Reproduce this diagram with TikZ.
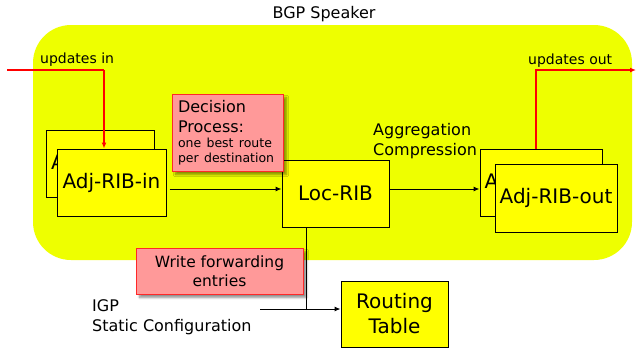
\documentclass[tikz,border=0pt]{standalone}
\usepackage{fontspec}
\setmainfont{DejaVu Sans}
\usepackage{tikz}
\usetikzlibrary{positioning}
\usetikzlibrary{arrows.meta}
\usetikzlibrary{shadows.blur}
\definecolor{speakerColor}{RGB}{238,255,0}
\definecolor{boxColor}{RGB}{255,255,0}
\definecolor{noteColor}{RGB}{255,153,153}
\definecolor{noteBorder}{RGB}{255,40,40}
\definecolor{updateColor}{RGB}{255,0,0}
\begin{document}
\begin{tikzpicture}[x=1pt,y=-1pt]

          \tikzstyle{boxNode} = [draw=black, fill=boxColor, line width=1pt, inner sep=0pt, minimum width=108pt, minimum height=67pt, font=\fontsize{20}{25}\selectfont, align=center];
          \tikzstyle{noteNode} = [draw=noteBorder, fill=noteColor, line width=1pt, inner sep=0pt, blur shadow={shadow xshift=3.5pt, shadow yshift=-3.5pt, shadow blur steps=6, shadow opacity=45}];
          \tikzstyle{labelNode} = [inner sep=0pt, align=left, font=\fontsize{16}{20}\selectfont];

          \tikzstyle{arrowEdge} = [line width=1pt, -{Latex[length=6pt, width=5pt]}];
          \tikzstyle{normalEdge} = [line width=1pt];
          \tikzstyle{redEdge} = [line width=1.5pt, updateColor];

          \useasboundingbox (0,0) rectangle (636,349);

          % speaker area
          \fill[speakerColor, rounded corners=38pt] (33,25) rectangle (632,260);
          \node[labelNode] (speaker) at (324,14) {BGP Speaker};

          \node[boxNode] (inBack) at (100,163.5) {Adj-RIB-in};
          \node[boxNode, minimum width=109pt] (adjIn) at (111.5,182.5) {Adj-RIB-in};
          \node[boxNode, minimum width=107pt] (loc) at (335.5,193.5) {Loc-RIB};
          \node[boxNode, minimum width=122pt] (outBack) at (541,182.5) {Adj-RIB-out};
          \node[boxNode, minimum width=122pt, minimum height=68pt] (adjOut) at (556,198) {Adj-RIB-out};
          \node[boxNode, minimum width=107pt, minimum height=66pt] (routing) at (394.5,314) {Routing\\Table};

          \node[noteNode, minimum width=111pt, minimum height=77pt, text width=99pt, align=left, font=\fontsize{16}{20}\selectfont] (decision) at (227.5,132.5)
            {Decision\\Process:\par\vspace{1pt}{\fontsize{12.5}{14.5}\selectfont one best route\\per destination\par}};
          \node[noteNode, minimum width=167pt, minimum height=46pt, align=center, font=\fontsize{15.5}{19}\selectfont] (write) at (219.5,271) {Write forwarding\\entries};

          \node[labelNode, font=\fontsize{14}{17}\selectfont, anchor=west] (updIn) at (40,60) {updates in};
          \node[labelNode, font=\fontsize{14}{17}\selectfont, anchor=west] (updOut) at (528,61) {updates out};
          \node[labelNode, anchor=west] (aggr) at (373,141) {Aggregation\\Compression};
          \node[labelNode, anchor=west] (igp) at (92,317) {IGP\\Static Configuration};

          \coordinate (inStart) at (7,70);
          \coordinate (inTurn) at (104,70);
          \coordinate (outTurn) at (536,70);
          \coordinate (outEnd) at (636,70);
          \coordinate (join) at (306,309);
          \coordinate (igpEnd) at (260,309);

          \draw[redEdge] (inStart) -- (inTurn);
          \draw[redEdge, -{Latex[length=6pt, width=5pt]}] (inTurn) -- (inTurn |- adjIn.north);
          \draw[redEdge, -{Latex[length=6pt, width=5pt]}] (outTurn |- outBack.north) -- (outTurn) -- (outEnd);

          \draw[arrowEdge, shorten <=3pt] ([yshift=-6.5pt]adjIn.east) -- ([yshift=-6.5pt]adjIn.east -| loc.west);
          \draw[arrowEdge] ([yshift=4.5pt]loc.east) -- ([yshift=4.5pt]loc.east -| outBack.west);
          \draw[normalEdge] (join |- loc.south) -- (join);
          \draw[arrowEdge] (igpEnd) -- (igpEnd -| routing.west);
        \end{tikzpicture}
\end{document}
